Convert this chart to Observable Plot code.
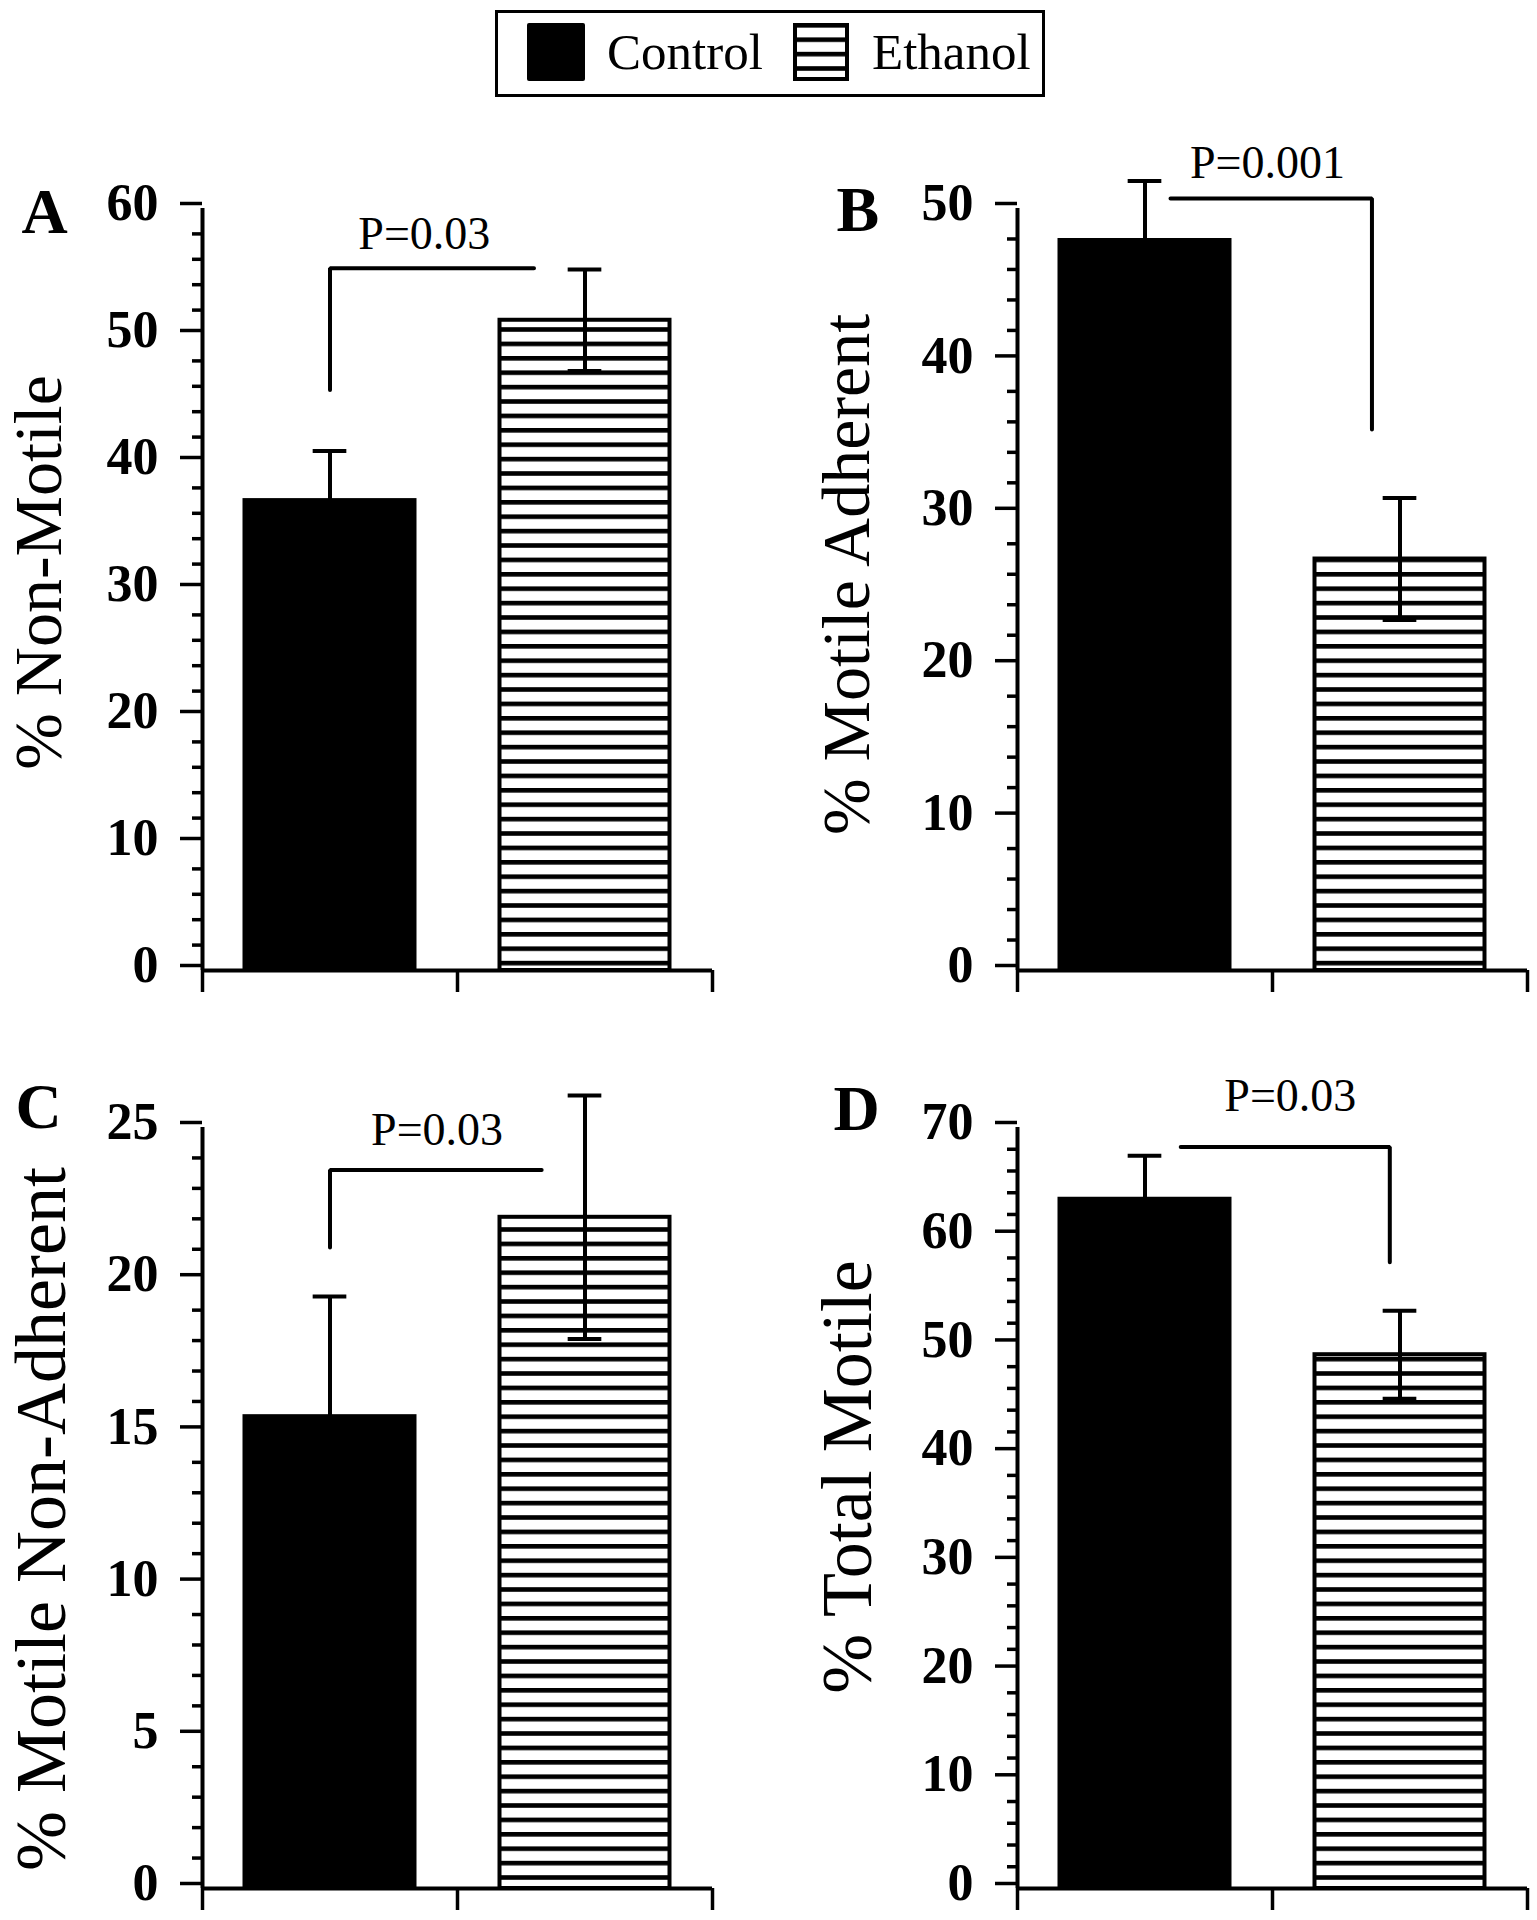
<!DOCTYPE html>
<html>
<head>
<meta charset="utf-8">
<script src="https://cdn.jsdelivr.net/npm/d3@7"></script>
<script src="https://cdn.jsdelivr.net/npm/@observablehq/plot@0.6"></script>
<style>
  html, body { margin: 0; padding: 0; background: white; }
  #page { position: relative; width: 1537px; height: 1920px; background: white; overflow: hidden; font-family: "Liberation Serif", "DejaVu Serif", serif; }
  .panel { position: absolute; }
  #legend { position: absolute; left: 495px; top: 10px; width: 550px; height: 87px; border: 3.5px solid black; box-sizing: border-box; }
  .sw { position: absolute; top: 10px; width: 58px; height: 58px; box-sizing: border-box; }
  .lt { position: absolute; top: 4px; font-size: 51px; line-height: 70px; color: black; white-space: nowrap; }
</style>
</head>
<body>
<svg width="0" height="0" style="position:absolute">
  <defs>
    <pattern id="stripes" patternUnits="userSpaceOnUse" width="40" height="14.4">
      <rect width="40" height="14.4" fill="white"></rect>
      <rect y="0" width="40" height="4.6" fill="black"></rect>
    </pattern>
  </defs>
</svg>
<div id="page">
  <div id="legend">
    <div class="sw" style="left:29px; background:black; border-radius:2px;"></div>
    <div class="lt" style="left:109px;">Control</div>
    <svg class="sw" style="left:295px;" width="56" height="58"><rect x="2" y="2" width="52" height="54" fill="url(#stripes)" stroke="black" stroke-width="4"></rect></svg>
    <div class="lt" style="left:374px;">Ethanol</div>
  </div>
</div>
<script>
// ---- data ----
const panelLetters = ["A", "B", "C", "D"];
const groups = ["Control", "Ethanol"];
const yTitles = ["% Non-Motile", "% Motile Adherent", "% Motile Non-Adherent", "% Total Motile"];
const controlMean = [37.0, 47.9, 15.5, 63.4];
const controlErr  = [3.9, 3.9, 3.95, 4.0];
const ethanolMean = [51.2, 27.0, 22.05, 49.1];
const ethanolErr  = [4.0, 4.0, 4.0, 4.05];
const yMax = [60, 50, 25, 70];
const majorTicksA = [0, 10, 20, 30, 40, 50, 60];
const majorTicksB = [0, 10, 20, 30, 40, 50];
const majorTicksC = [0, 5, 10, 15, 20, 25];
const majorTicksD = [0, 10, 20, 30, 40, 50, 60, 70];
const majorTicks = [majorTicksA, majorTicksB, majorTicksC, majorTicksD];
const minorStep = [2, 2, 1, 2];
const pLabels = ["P=0.03", "P=0.001", "P=0.03", "P=0.03"];
// significance brackets (x in category units 0..2, y in data units)
const bracketXStart = [0.5, 0.60, 0.5, 0.64];
const bracketXEnd   = [1.30, 1.39, 1.33, 1.46];
const bracketTop    = [55.3, 50.66, 23.6, 68.2];
const bracketLegEnd = [45.7, 35.5, 21.06, 57.6];
const bracketLegSide = ["start", "end", "start", "end"];
const pLabelX = [0.87, 0.98, 0.92, 1.07];
const pLabelY = [58.0, 53.0, 24.9, 72.9];

// ---- layout / style ----
const layout = [
  {left: 0,   top: 140,  width: 768, height: 880, mt: 68, mb: 50, ml: 202, mr: 56, titleSize: 68, titleDx: -163, titleDy: -17, letterDx: -181, letterDy: -21},
  {left: 768, top: 140,  width: 769, height: 880, mt: 68, mb: 50, ml: 249, mr: 10, titleSize: 68, titleDx: -170, titleDy: -15, letterDx: -181, letterDy: -23},
  {left: 0,   top: 1040, width: 768, height: 880, mt: 87, mb: 32, ml: 202, mr: 56, titleSize: 72, titleDx: -161, titleDy: 11, letterDx: -187, letterDy: -45},
  {left: 768, top: 1040, width: 769, height: 880, mt: 87, mb: 32, ml: 249, mr: 10, titleSize: 72, titleDx: -170, titleDy: -31, letterDx: -184, letterDy: -43}
];
const FONT = "Liberation Serif, DejaVu Serif, serif";
const barHalf = 1 / 3;      // Excel-style 50% gap width
const capHalf = 0.066;
const SW = 4;

const page = document.getElementById("page");

panelLetters.forEach((letter, i) => {
  const L = layout[i];
  const rows = groups.map((g, j) => ({
    group: g,
    pos: j + 0.5,
    mean: j === 0 ? controlMean[i] : ethanolMean[i],
    err: j === 0 ? controlErr[i] : ethanolErr[i]
  }));
  const minor = d3.range(0, yMax[i] + 1e-9, minorStep[i]).filter(v => !majorTicks[i].includes(v));
  const xs = bracketXStart[i], xe = bracketXEnd[i], yt = bracketTop[i], yl = bracketLegEnd[i];
  const bracket = bracketLegSide[i] === "start"
    ? [{x: xs, y: yl}, {x: xs, y: yt}, {x: xe, y: yt}]
    : [{x: xs, y: yt}, {x: xe, y: yt}, {x: xe, y: yl}];

  const chart = Plot.plot({
    width: L.width,
    height: L.height,
    marginTop: L.mt,
    marginBottom: L.mb,
    marginLeft: L.ml,
    marginRight: L.mr,
    x: {domain: [0, 2], axis: null},
    y: {domain: [0, yMax[i]], axis: null},
    style: {fontFamily: FONT, background: "white", overflow: "visible", color: "black"},
    marks: [
      Plot.rectY(rows, {
        x1: d => d.pos - barHalf, x2: d => d.pos + barHalf, y1: 0, y2: "mean",
        fill: d => d.group === "Control" ? "black" : "url(#stripes)",
        stroke: "black", strokeWidth: SW
      }),
      Plot.ruleX(rows, {x: "pos", y1: d => d.mean - d.err, y2: d => d.mean + d.err, stroke: "black", strokeWidth: SW}),
      Plot.ruleY(rows, {y: d => d.mean + d.err, x1: d => d.pos - capHalf, x2: d => d.pos + capHalf, stroke: "black", strokeWidth: SW}),
      Plot.ruleY(rows, {y: d => d.mean - d.err, x1: d => d.pos - capHalf, x2: d => d.pos + capHalf, stroke: "black", strokeWidth: SW}),
      Plot.axisY({ticks: minor, tickSize: 10, tickFormat: () => "", strokeWidth: 3.5}),
      Plot.axisY({ticks: majorTicks[i], tickSize: 22, tickPadding: 22, strokeWidth: 3.5,
                  fontSize: 52, fontWeight: "bold", fontFamily: FONT, dy: -5, label: null}),
      Plot.axisX({ticks: [0, 1, 2], tickSize: 22, tickFormat: () => "", strokeWidth: 3.5, label: null}),
      Plot.ruleX([0], {stroke: "black", strokeWidth: SW}),
      Plot.ruleY([0], {stroke: "black", strokeWidth: SW}),
      Plot.line(bracket, {x: "x", y: "y", stroke: "black", strokeWidth: SW, strokeLinejoin: "miter"}),
      Plot.text([pLabels[i]], {x: pLabelX[i], y: pLabelY[i], fontSize: 46, fontFamily: FONT, fill: "black", lineAnchor: "middle", textAnchor: "middle"}),
      Plot.text([yTitles[i]], {frameAnchor: "left", rotate: -90, dx: L.titleDx, dy: L.titleDy,
                               textAnchor: "middle", lineAnchor: "middle", fontSize: L.titleSize, fontFamily: FONT, fill: "black"}),
      Plot.text([letter], {frameAnchor: "top-left", dx: L.letterDx, dy: L.letterDy, textAnchor: "start", lineAnchor: "top",
                           fontSize: 64, fontWeight: "bold", fontFamily: FONT, fill: "black"})
    ]
  });
  const wrap = document.createElement("div");
  wrap.className = "panel";
  wrap.style.left = L.left + "px";
  wrap.style.top = L.top + "px";
  wrap.appendChild(chart);
  page.appendChild(wrap);
});
</script>
</body>
</html>
